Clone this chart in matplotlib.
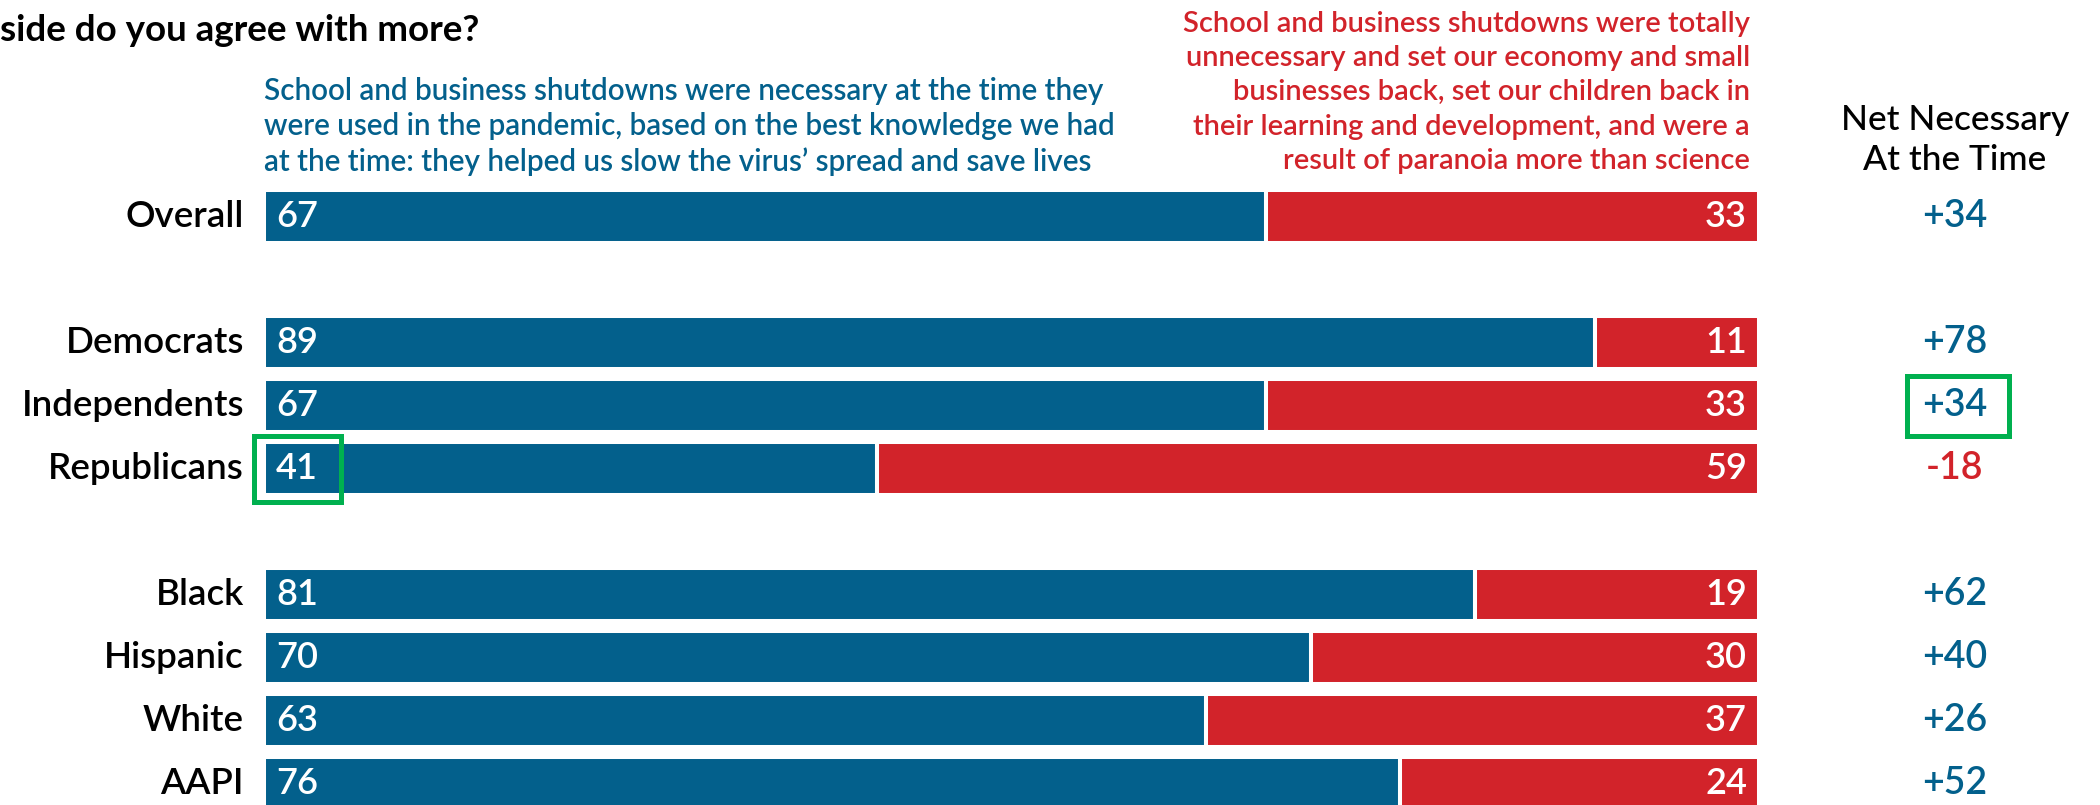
import matplotlib.pyplot as plt
from matplotlib.patches import Rectangle

plt.rcParams['font.family'] = ['Lato', 'DejaVu Sans']

groups = ['Overall', 'Democrats', 'Independents', 'Republicans',
          'Black', 'Hispanic', 'White', 'AAPI']
slots = [0, 2, 3, 4, 6, 7, 8, 9]
necessary = [67, 89, 67, 41, 81, 70, 63, 76]
unnecessary = [33, 11, 33, 59, 19, 30, 37, 24]

title = 'side do you agree with more?'
blue_head = ('School and business shutdowns were necessary at the time they\n'
             'were used in the pandemic, based on the best knowledge we had\n'
             'at the time: they helped us slow the virus\u2019 spread and save lives')
red_head = ('School and business shutdowns were totally\n'
            'unnecessary and set our economy and small\n'
            'businesses back, set our children back in\n'
            'their learning and development, and were a\n'
            'result of paranoia more than science')
net_head = 'Net Necessary\nAt the Time'

BLUE = '#03608c'
RED = '#d2232a'
GREEN = '#00b04f'

fig = plt.figure(figsize=(21, 8.05), dpi=100)
ax = fig.add_axes([264 / 2100, 0, 1495 / 2100, 1])
ax.set_xlim(0, 100)
ax.set_ylim(9.341, -3.437)
ax.axis('off')

h = 0.84
ax.barh(slots, necessary, height=h, color=BLUE, edgecolor='white', linewidth=2.9)
ax.barh(slots, unnecessary, left=necessary, height=h, color=RED,
        edgecolor='white', linewidth=2.9)

for s, g, n, u in zip(slots, groups, necessary, unnecessary):
    ax.text(-1.34, s, g, ha='right', va='center', fontsize=26.5,
            fontweight='semibold', color='black')
    ax.text(0.8, s, str(n), ha='left', va='center', fontsize=26,
            fontweight='semibold', color='white')
    ax.text(99.2, s, str(u), ha='right', va='center', fontsize=26,
            fontweight='semibold', color='white')
    net = n - u
    lab = f'+{net}' if net > 0 else str(net)
    ax.text(113.1, s, lab, ha='center', va='center', fontsize=27,
            fontweight='semibold', color=BLUE if net > 0 else RED, clip_on=False)

ax.text(-17.66, -2.96, title, ha='left', va='center', fontsize=26.5,
        fontweight='bold', color='black')
ax.text(0, -1.43, blue_head, ha='left', va='center', fontsize=21.3,
        fontweight='semibold', color=BLUE, linespacing=1.3)
ax.text(99.4, -1.97, red_head, ha='right', va='center', fontsize=21,
        fontweight='semibold', color=RED, linespacing=1.4)
ax.text(113.1, -1.21, net_head, ha='center', va='center', fontsize=25.5,
        fontweight='medium', color='black', linespacing=1.3)

# green highlight boxes
ax.add_patch(Rectangle((-0.67, 3.484), 5.82, 1.048, fill=False,
                       edgecolor=GREEN, linewidth=3.6, clip_on=False))
ax.add_patch(Rectangle((109.9, 2.53), 6.8, 0.95, fill=False,
                       edgecolor=GREEN, linewidth=3.6, clip_on=False))

fig.savefig('out.png', dpi=100)
